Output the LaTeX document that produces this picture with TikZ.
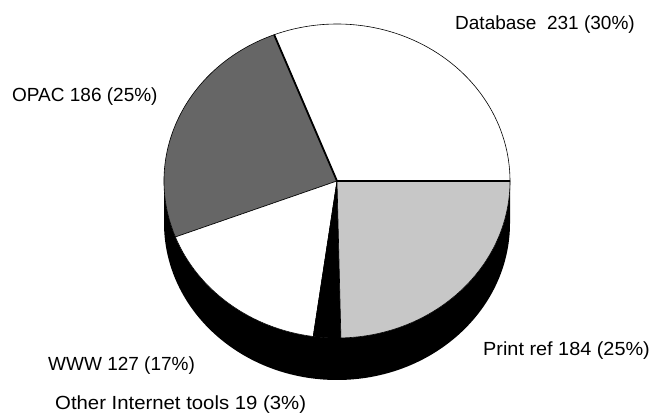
\documentclass[tikz,border=0pt]{standalone}
\usepackage{fontspec}
\setmainfont{Liberation Sans}
\begin{document}
\begin{tikzpicture}[x=1pt,y=1pt,
  lbl/.style={font=\fontsize{19}{22}\selectfont, inner sep=0pt, anchor=base west},
  slice/.style={draw=black, line width=0.6pt}]
\useasboundingbox (0,0) rectangle (650,414);
\fill[white] (0,0) rectangle (650,414);
\coordinate (C) at (337,233);
\def\rx{173}\def\ry{157}\def\dep{42}
% side
\fill[black] (C) ++(180:\rx pt and \ry pt) arc[start angle=180,end angle=360,x radius=\rx,y radius=\ry]
  -- ++(0,-\dep) arc[start angle=360,end angle=180,x radius=\rx,y radius=\ry] -- cycle;
% slices
\filldraw[slice, fill=white] (C) -- ++(0:\rx pt and \ry pt) arc[start angle=0,end angle=111.3,x radius=\rx,y radius=\ry] -- cycle;
\filldraw[slice, fill=black!60] (C) -- ++(111.3:\rx pt and \ry pt) arc[start angle=111.3,end angle=200.9,x radius=\rx,y radius=\ry] -- cycle;
\filldraw[slice, fill=white] (C) -- ++(200.9:\rx pt and \ry pt) arc[start angle=200.9,end angle=262.1,x radius=\rx,y radius=\ry] -- cycle;
\filldraw[slice, fill=black] (C) -- ++(262.1:\rx pt and \ry pt) arc[start angle=262.1,end angle=271.3,x radius=\rx,y radius=\ry] -- cycle;
\filldraw[slice, fill=black!22] (C) -- ++(271.3:\rx pt and \ry pt) arc[start angle=271.3,end angle=360,x radius=\rx,y radius=\ry] -- cycle;
% emphasised edges
\draw[line width=1.8pt] (C) -- ++(111.3:\rx pt and \ry pt);
\draw[line width=1.5pt] (C) -- ++(0:\rx pt and \ry pt);
% labels
\node[lbl] (db) at (455,384) {Database\ \ 231 (30\%)};
\node[lbl] (opac) at (12,312) {OPAC 186 (25\%)};
\node[lbl, xscale=1.045] (pr) at (483,58) {Print ref 184 (25\%)};
\node[lbl] (www) at (48,43) {WWW 127 (17\%)};
\node[lbl, xscale=1.07] (oth) at (55,4) {Other Internet tools 19 (3\%)};
\end{tikzpicture}
\end{document}
